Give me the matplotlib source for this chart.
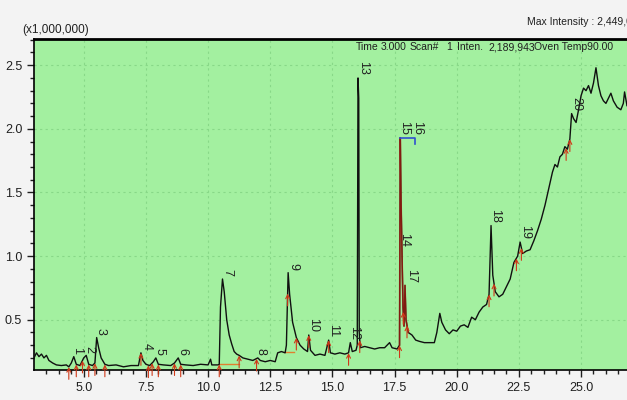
import numpy as np
import matplotlib
matplotlib.use("Agg")
from matplotlib import pyplot as plt

plt.rcParams['font.family'] = ['Liberation Sans', 'DejaVu Sans']

# chromatogram trace, retention time (min) and intensity (x1,000,000)
time = [3.00, 3.10, 3.20, 3.30, 3.40, 3.50, 3.60, 3.75, 3.90, 4.10, 4.30, 4.40, 4.50, 4.60,
        4.70, 4.85, 5.00, 5.10, 5.20, 5.35, 5.45, 5.52, 5.60, 5.70, 5.85, 6.00, 6.30, 6.60,
        6.90, 7.20, 7.30, 7.38, 7.50, 7.65, 7.80, 7.90, 8.00, 8.20, 8.50, 8.65, 8.80, 8.90,
        9.10, 9.40, 9.70, 10.00, 10.10, 10.15, 10.40, 10.45, 10.50, 10.58, 10.65, 10.75,
        10.85, 10.95, 11.05, 11.15, 11.25, 11.40, 11.60, 11.80, 12.00, 12.10, 12.30, 12.50,
        12.70, 12.80, 12.95, 13.10, 13.15, 13.22, 13.28, 13.40, 13.55, 13.70, 13.85, 14.00,
        14.05, 14.12, 14.30, 14.50, 14.70, 14.85, 14.92, 15.10, 15.30, 15.50, 15.65, 15.72,
        15.80, 15.95, 16.00, 16.03, 16.06, 16.08, 16.12, 16.30, 16.50, 16.70, 16.90, 17.10,
        17.30, 17.40, 17.60, 17.70, 17.73, 17.76, 17.80, 17.84, 17.88, 17.92, 17.96, 18.05,
        18.20, 18.35, 18.50, 18.70, 18.90, 19.10, 19.20, 19.32, 19.40, 19.55, 19.70, 19.85,
        20.00, 20.15, 20.30, 20.45, 20.60, 20.75, 20.90, 21.05, 21.20, 21.30, 21.38, 21.45,
        21.55, 21.70, 21.85, 22.00, 22.15, 22.30, 22.45, 22.55, 22.65, 22.80, 22.95, 23.10,
        23.25, 23.40, 23.55, 23.70, 23.85, 23.95, 24.05, 24.15, 24.25, 24.35, 24.45, 24.55,
        24.62, 24.70, 24.80, 24.90, 25.00, 25.10, 25.20, 25.30, 25.40, 25.50, 25.60, 25.70,
        25.80, 25.90, 26.00, 26.10, 26.20, 26.30, 26.45, 26.60, 26.70, 26.75, 26.85, 27.00]
intensity = [0.20, 0.24, 0.21, 0.23, 0.20, 0.22, 0.18, 0.16, 0.145, 0.14, 0.145, 0.13, 0.16, 0.21,
             0.15, 0.14, 0.20, 0.22, 0.15, 0.14, 0.16, 0.36, 0.28, 0.20, 0.15, 0.14, 0.145, 0.13,
             0.14, 0.14, 0.24, 0.18, 0.15, 0.14, 0.17, 0.20, 0.15, 0.145, 0.14, 0.16, 0.20, 0.15,
             0.145, 0.14, 0.15, 0.145, 0.19, 0.145, 0.145, 0.15, 0.60, 0.82, 0.72, 0.50,
             0.38, 0.31, 0.25, 0.23, 0.22, 0.20, 0.19, 0.18, 0.20, 0.18, 0.17, 0.18,
             0.17, 0.24, 0.25, 0.24, 0.30, 0.87, 0.70, 0.48, 0.36, 0.30, 0.27, 0.25,
             0.38, 0.26, 0.22, 0.23, 0.22, 0.34, 0.24, 0.23, 0.24, 0.23, 0.24, 0.32,
             0.25, 0.26, 0.30, 2.40, 2.24, 0.40, 0.28, 0.29, 0.28, 0.27, 0.28, 0.28,
             0.32, 0.28, 0.27, 0.30, 1.93, 1.45, 1.00, 0.60, 0.45, 0.77, 0.50, 0.40,
             0.38, 0.34, 0.33, 0.32, 0.32, 0.32, 0.40, 0.55, 0.48, 0.42, 0.39, 0.42,
             0.41, 0.45, 0.46, 0.44, 0.52, 0.50, 0.56, 0.60, 0.62, 0.70, 1.24, 0.85,
             0.72, 0.68, 0.70, 0.76, 0.82, 0.95, 1.00, 1.11, 1.02, 1.04, 1.05, 1.12,
             1.20, 1.29, 1.40, 1.53, 1.66, 1.72, 1.70, 1.78, 1.80, 1.86, 1.84, 1.92,
             2.12, 2.08, 2.05, 2.15, 2.26, 2.32, 2.30, 2.34, 2.28, 2.36, 2.48, 2.34,
             2.26, 2.22, 2.20, 2.24, 2.28, 2.22, 2.17, 2.15, 2.20, 2.29, 2.18, 2.20]

# peak labels and where they sit
peak_ids = [str(i) for i in range(1, 21)]
peak_t = [4.62, 5.12, 5.58, 7.40, 7.92, 8.85, 10.65, 12.00, 13.30, 14.10,
          14.90, 15.75, 16.12, 17.78, 17.78, 18.28, 18.05, 21.45, 22.62, 24.70]
peak_v = [0.21, 0.22, 0.36, 0.24, 0.20, 0.20, 0.82, 0.20, 0.87, 0.38,
          0.34, 0.32, 2.40, 1.05, 1.93, 1.93, 0.77, 1.24, 1.11, 2.12]

# integration start/end marks
bound_t = [4.40, 4.70, 4.95, 5.20, 5.45, 5.85, 7.30, 7.60, 7.75, 8.00, 8.65, 8.90,
           10.45, 11.25, 11.95, 13.20, 13.55, 14.05, 14.85, 15.65, 16.10, 17.70,
           17.85, 18.00, 21.30, 21.50, 22.40, 22.60, 24.40, 24.55]

fig = plt.figure(figsize=(6.27, 4.0), dpi=100, facecolor='#f3f3f3')
ax = fig.add_axes([34 / 627, 30 / 400, 1 - 34 / 627 + 0.01, 331 / 400])
ax.set_facecolor('#a3f0a0')

ax.plot(time, intensity, color='#101010', lw=1.0, zorder=3)

# red overlay on the crowded 14-17 region
t_arr = np.array(time)
v_arr = np.array(intensity)
sel = (t_arr >= 17.70) & (t_arr <= 18.05)
ax.plot(t_arr[sel], v_arr[sel], color='#b02010', lw=1.2, alpha=0.7, zorder=4)

# orange baselines under a few peaks
for a, b in [(10.45, 11.25), (13.05, 13.45)]:
    va = np.interp(a, time, intensity)
    ax.plot([a, b], [va, va], color='#e08030', lw=1.0, zorder=2)

# boundary arrows
for t in bound_t:
    v = np.interp(t, time, intensity)
    ax.annotate('', xy=(t, v + 0.02), xytext=(t, v - 0.12),
                arrowprops=dict(arrowstyle='->', color='#d03818', lw=0.8, mutation_scale=7),
                annotation_clip=False, zorder=5)

# blue marker joining peaks 15 and 16
ax.plot([peak_t[14] - 0.05, peak_t[15] + 0.05, peak_t[15] + 0.05],
        [peak_v[14], peak_v[15], peak_v[15] - 0.05], color='#3050d0', lw=1.2, zorder=5)

for lab, t, v in zip(peak_ids, peak_t, peak_v):
    ax.annotate(lab, (t, v), xytext=(2, 2), textcoords='offset points',
                rotation=-90, ha='center', va='bottom', fontsize=9, color='#202020', zorder=6)

ax.set_xlim(3.0, 27.1)
ax.set_ylim(0.105, 2.706)
ax.set_xticks([5.0, 7.5, 10.0, 12.5, 15.0, 17.5, 20.0, 22.5, 25.0])
ax.set_xticks(np.arange(3.5, 27.1, 0.5), minor=True)
ax.set_yticks([0.5, 1.0, 1.5, 2.0, 2.5])
ax.set_yticks(np.arange(0.2, 2.71, 0.1), minor=True)
ax.tick_params(which='major', length=5, width=1, labelsize=9, colors='#202020')
ax.tick_params(which='minor', length=3, width=1, colors='#202020')
ax.grid(True, which='major', color='#88d888', linestyle=(0, (2, 3)), lw=0.8)
ax.spines['right'].set_visible(False)
ax.spines['top'].set_linewidth(2)
ax.spines['left'].set_linewidth(1.2)
ax.spines['bottom'].set_linewidth(1.2)

fig.text(22 / 627, 1 - 30 / 400, '(x1,000,000)', fontsize=8.5, va='center', color='#202020')
fig.text(527 / 627, 1 - 22 / 400, 'Max Intensity : 2,449,053', fontsize=7.5, va='center', color='#202020')

header = [('Time', 356), ('3.000', 381), ('Scan#', 410), ('1', 446), ('Inten.', 457),
          ('2,189,943', 488), ('Oven Temp90.00', 534)]
for txt, px in header:
    fig.text(px / 627, 1 - 47 / 400, txt, fontsize=7.5, va='center', color='#202020')

fig.savefig('out.png', dpi=100, facecolor=fig.get_facecolor())
